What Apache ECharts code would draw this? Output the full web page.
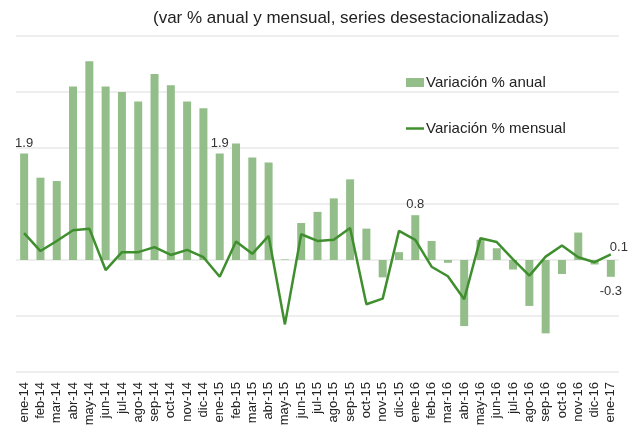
<!DOCTYPE html>
<html>
<head>
<meta charset="utf-8">
<script src="https://cdn.jsdelivr.net/npm/echarts@6/dist/echarts.min.js"></script>
<style>
  html, body { margin: 0; padding: 0; background: #fff; }
  #main { width: 631px; height: 432px; }
</style>
</head>
<body>
<div id="main"></div>
<script>
// meses
var months = ['ene-14', 'feb-14', 'mar-14', 'abr-14', 'may-14', 'jun-14', 'jul-14', 'ago-14', 'sep-14', 'oct-14', 'nov-14', 'dic-14',
  'ene-15', 'feb-15', 'mar-15', 'abr-15', 'may-15', 'jun-15', 'jul-15', 'ago-15', 'sep-15', 'oct-15', 'nov-15', 'dic-15',
  'ene-16', 'feb-16', 'mar-16', 'abr-16', 'may-16', 'jun-16', 'jul-16', 'ago-16', 'sep-16', 'oct-16', 'nov-16', 'dic-16',
  'ene-17']

// variacion % anual (barras)
var anual = [1.9, 1.47, 1.41, 3.1, 3.55, 3.1, 3.0, 2.83, 3.32, 3.12, 2.83, 2.71,
  1.9, 2.08, 1.83, 1.74, 0.01, 0.66, 0.86, 1.1, 1.44, 0.56, -0.31, 0.14,
  0.8, 0.34, -0.05, -1.18, 0.36, 0.21, -0.17, -0.82, -1.31, -0.25, 0.49, -0.08,
  -0.3]

// variacion % mensual (linea)
var mensual = [0.48, 0.16, 0.34, 0.53, 0.56, -0.18, 0.14, 0.14, 0.23, 0.09, 0.18, 0.05,
  -0.3, 0.33, 0.11, 0.43, -1.15, 0.46, 0.34, 0.36, 0.57, -0.79, -0.69, 0.52,
  0.36, -0.12, -0.29, -0.7, 0.39, 0.32, 0.01, -0.28, 0.06, 0.26, 0.05, -0.04,
  0.1]

// indices con etiqueta
var anualLabels = [0, 12, 24, 36]
var mensualLabels = [36]

var font = 'Liberation Sans'

var myChart = echarts.init(document.getElementById('main'))

var barData = anual.map(function (v, i) {
  if (anualLabels.indexOf(i) < 0) return v
  return {
    value: v,
    label: {
      show: true,
      position: v < 0 ? 'bottom' : 'top',
      distance: v < 0 ? 8 : 4,
      formatter: v.toFixed(1)
    }
  }
})

var lineData = mensual.map(function (v, i) {
  if (mensualLabels.indexOf(i) < 0) return v
  return {
    value: v,
    label: {
      show: true,
      position: 'top',
      distance: 0,
      offset: [8, 0],
      formatter: v.toFixed(1)
    }
  }
})

var option = {
  animation: false,
  textStyle: { fontFamily: font },
  title: {
    text: '(var % anual y mensual, series desestacionalizadas)',
    left: 148,
    top: 5,
    textStyle: { fontFamily: font, fontSize: 17, fontWeight: 'normal', color: '#222' }
  },
  legend: {
    orient: 'vertical',
    left: 401,
    top: 70,
    itemGap: 31,
    itemWidth: 18,
    itemHeight: 9,
    textStyle: { fontFamily: font, fontSize: 15, color: '#222', padding: [0, 0, 0, -3] },
    data: [
      { name: 'Variación % anual', icon: 'rect' },
      { name: 'Variación % mensual', icon: 'path://M0,0 L18,0 L18,2.5 L0,2.5 Z', itemStyle: { color: '#3f8f2f' } }
    ]
  },
  grid: {
    left: 16,
    right: 12,
    top: 36,
    bottom: 60
  },
  xAxis: {
    type: 'category',
    data: months,
    axisLine: { show: false, onZero: false },
    axisTick: { show: false },
    axisLabel: {
      rotate: 90,
      interval: 0,
      fontFamily: font,
      fontSize: 13,
      color: '#222',
      margin: 10
    }
  },
  yAxis: {
    type: 'value',
    min: -2,
    max: 4,
    interval: 1,
    axisLabel: { show: false },
    axisLine: { show: false },
    axisTick: { show: false },
    splitLine: { lineStyle: { color: '#e8e8e8', width: 1.5 } }
  },
  series: [
    {
      name: 'Variación % anual',
      type: 'bar',
      data: barData,
      barWidth: '49%',
      itemStyle: { color: '#93bd89' },
      label: { fontFamily: font, fontSize: 13, color: '#333' }
    },
    {
      name: 'Variación % mensual',
      type: 'line',
      data: lineData,
      symbol: 'circle',
      symbolSize: 0,
      lineStyle: { color: '#3f8f2f', width: 2.5 },
      itemStyle: { color: '#3f8f2f' },
      label: { fontFamily: font, fontSize: 13, color: '#333' }
    }
  ]
}

myChart.setOption(option)
</script>
</body>
</html>
